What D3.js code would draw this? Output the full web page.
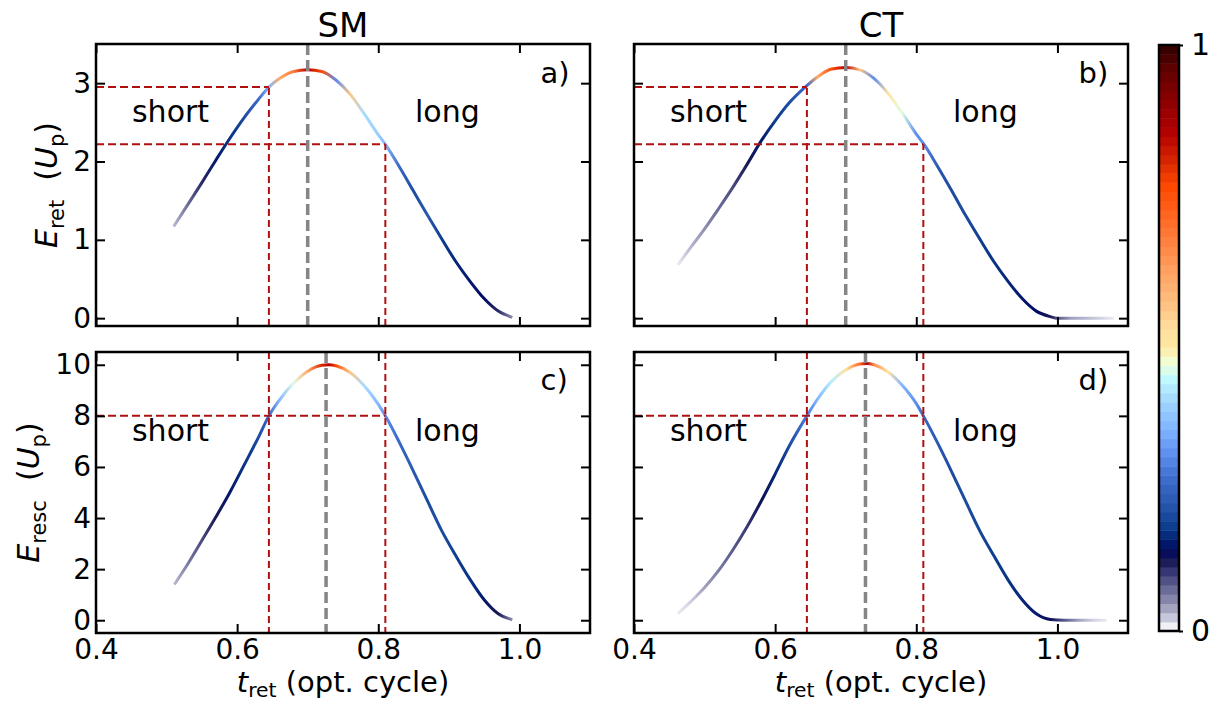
<!DOCTYPE html>
<html>
<head>
<meta charset="utf-8">
<script src="https://cdn.jsdelivr.net/npm/d3@7"></script>
<style>
  body { margin: 0; background: #fff; }
  svg { display: block; font-family: "DejaVu Sans", sans-serif; }
</style>
</head>
<body>
<div id="chart"></div>
<script>
// axes
var tDomain = [0.4, 1.1];
var tTicks = [0.4, 0.6, 0.8, 1.0];
var eRetDomain = [-0.1, 3.5];
var eRetTicks = [0, 1, 2, 3];
var eRescDomain = [-0.5, 10.5];
var eRescTicks = [0, 2, 4, 6, 8, 10];

// SM, return energy (panel a)
var smRetT = [0.51, 0.53, 0.55, 0.57, 0.59, 0.61, 0.63, 0.645, 0.66, 0.68, 0.70, 0.72, 0.74, 0.76, 0.78, 0.80, 0.81, 0.83, 0.85, 0.87, 0.89, 0.91, 0.93, 0.95, 0.97, 0.99];
var smRetE = [1.17, 1.45, 1.73, 2.02, 2.30, 2.56, 2.79, 2.95, 3.06, 3.15, 3.17, 3.15, 3.04, 2.86, 2.61, 2.34, 2.22, 1.93, 1.62, 1.31, 1.01, 0.72, 0.47, 0.25, 0.09, 0.01];
var smRetW = [0.03, 0.07, 0.11, 0.15, 0.17, 0.2, 0.25, 0.35, 0.6, 0.68, 0.85, 0.75, 0.3, 0.55, 0.4, 0.38, 0.35, 0.25, 0.2, 0.22, 0.18, 0.16, 0.15, 0.14, 0.11, 0.05];

// CT, return energy (panel b)
var ctRetT = [0.462, 0.48, 0.50, 0.52, 0.54, 0.56, 0.58, 0.60, 0.62, 0.645, 0.66, 0.68, 0.70, 0.72, 0.74, 0.76, 0.78, 0.80, 0.81, 0.83, 0.85, 0.87, 0.89, 0.91, 0.93, 0.95, 0.97, 0.99, 1.00, 1.02, 1.04, 1.06, 1.08];
var ctRetE = [0.68, 0.90, 1.14, 1.40, 1.67, 1.96, 2.26, 2.52, 2.75, 2.97, 3.08, 3.18, 3.20, 3.17, 3.06, 2.87, 2.62, 2.35, 2.23, 1.94, 1.63, 1.31, 1.01, 0.72, 0.47, 0.25, 0.09, 0.02, 0, 0, 0, 0, 0];
var ctRetW = [0.01, 0.03, 0.05, 0.07, 0.09, 0.12, 0.15, 0.18, 0.2, 0.25, 0.6, 0.75, 0.85, 0.55, 0.3, 0.5, 0.45, 0.3, 0.3, 0.22, 0.2, 0.2, 0.18, 0.17, 0.16, 0.15, 0.14, 0.12, 0.08, 0.04, 0.03, 0.02, 0.01];

// SM, rescattering energy (panel c)
var smRescT = [0.511, 0.53, 0.55, 0.57, 0.59, 0.61, 0.63, 0.645, 0.66, 0.68, 0.70, 0.72, 0.73, 0.74, 0.76, 0.78, 0.80, 0.81, 0.83, 0.85, 0.87, 0.89, 0.91, 0.93, 0.95, 0.97, 0.99];
var smRescE = [1.40, 2.20, 3.12, 4.05, 5.02, 6.08, 7.15, 8.0, 8.62, 9.28, 9.75, 9.98, 10.0, 9.96, 9.70, 9.18, 8.45, 8.0, 6.95, 5.82, 4.65, 3.50, 2.52, 1.60, 0.80, 0.25, 0.02];
var smRescW = [0.03, 0.06, 0.09, 0.12, 0.15, 0.17, 0.2, 0.25, 0.35, 0.45, 0.6, 0.8, 0.85, 0.75, 0.55, 0.4, 0.35, 0.3, 0.25, 0.22, 0.2, 0.2, 0.18, 0.17, 0.15, 0.12, 0.05];

// CT, rescattering energy (panel d)
var ctRescT = [0.462, 0.48, 0.50, 0.52, 0.54, 0.56, 0.58, 0.60, 0.62, 0.645, 0.66, 0.68, 0.70, 0.72, 0.73, 0.74, 0.76, 0.78, 0.80, 0.81, 0.83, 0.85, 0.87, 0.89, 0.91, 0.93, 0.95, 0.97, 0.99, 1.01, 1.03, 1.05, 1.07];
var ctRescE = [0.26, 0.72, 1.28, 1.95, 2.75, 3.65, 4.65, 5.72, 6.82, 8.0, 8.65, 9.35, 9.80, 10.03, 10.05, 10.0, 9.72, 9.20, 8.48, 8.0, 6.95, 5.82, 4.65, 3.50, 2.52, 1.58, 0.80, 0.25, 0.03, 0, 0, 0, 0];
var ctRescW = [0.01, 0.02, 0.04, 0.06, 0.08, 0.1, 0.13, 0.16, 0.2, 0.28, 0.35, 0.42, 0.5, 0.7, 0.85, 0.65, 0.5, 0.35, 0.3, 0.25, 0.22, 0.2, 0.2, 0.19, 0.18, 0.17, 0.16, 0.15, 0.13, 0.08, 0.04, 0.02, 0.01];

// guide lines
var cutT = [0.645, 0.81];
var retCutE = [2.95, 2.22];
var rescCutE = 8.0;
var peakT = { a: 0.70, b: 0.70, c: 0.726, d: 0.728 };
var labelT = [0.451, 0.852];
var labelText = ["short", "long"];

// colour map
var cmapStops = [0, 0.009, 0.026, 0.048, 0.077, 0.105, 0.122, 0.14, 0.174, 0.219, 0.265, 0.304, 0.344, 0.39, 0.43, 0.458, 0.486, 0.515, 0.56, 0.617, 0.674, 0.76, 0.80, 0.85, 0.90, 0.958, 1];
var cmapColors = ["#ffffff", "#eeeef4", "#c0c0d8", "#9090b0", "#606090", "#303070", "#151550", "#000a60", "#0a3a8a", "#2a58b0", "#4070d0", "#6090f0", "#80b4ff", "#a0d4ff", "#c0f8ff", "#f0ffd8", "#ffe8a0", "#ffe0a0", "#ffc080", "#ffa060", "#ff7a38", "#ff4800", "#d82800", "#b40000", "#900000", "#600000", "#300000"];

var width = 1223, height = 706;
var FONT = '"DejaVu Sans", sans-serif';
var RED = "#b01010";

var cmap = d3.scaleLinear().domain(cmapStops).range(cmapColors)
    .interpolate(d3.interpolateRgb).clamp(true);

var svg = d3.select("#chart").append("svg")
    .attr("width", width)
    .attr("height", height);
svg.append("rect").attr("width", width).attr("height", height).attr("fill", "#fff");
var defs = svg.append("defs");

var panels = [
    { id: "a", left: 96, top: 44, w: 494, h: 282, kind: "ret", t: smRetT, e: smRetE, wt: smRetW, xLab: false, yLab: true },
    { id: "b", left: 634, top: 44, w: 494, h: 282, kind: "ret", t: ctRetT, e: ctRetE, wt: ctRetW, xLab: false, yLab: false },
    { id: "c", left: 96, top: 352, w: 494, h: 281, kind: "resc", t: smRescT, e: smRescE, wt: smRescW, xLab: true, yLab: true },
    { id: "d", left: 634, top: 352, w: 494, h: 281, kind: "resc", t: ctRescT, e: ctRescE, wt: ctRescW, xLab: true, yLab: false }
];

function styleAxis(sel) {
    sel.attr("font-size", 28).attr("font-family", FONT);
    sel.select(".domain").remove();
    sel.selectAll(".tick line").attr("stroke", "#000").attr("stroke-width", 2);
    sel.selectAll(".tick text").attr("fill", "#000");
}

panels.forEach(function (p) {
    var x = d3.scaleLinear().domain(tDomain).range([0, p.w]);
    var y = d3.scaleLinear().domain(p.kind == "ret" ? eRetDomain : eRescDomain).range([p.h, 0]);
    var yTicks = p.kind == "ret" ? eRetTicks : eRescTicks;
    var g = svg.append("g").attr("transform", "translate(" + p.left + "," + p.top + ")");

    // gradient along t carrying the normalised counts
    var n = p.t.length;
    var x0 = x(p.t[0]), x1 = x(p.t[n - 1]);
    var grad = defs.append("linearGradient")
        .attr("id", "grad-" + p.id)
        .attr("gradientUnits", "userSpaceOnUse")
        .attr("x1", x0).attr("x2", x1).attr("y1", 0).attr("y2", 0);
    grad.selectAll("stop").data(p.t).join("stop")
        .attr("offset", function (d) { return (x(d) - x0) / (x1 - x0); })
        .attr("stop-color", function (d, i) { return cmap(p.wt[i]); });

    var line = d3.line()
        .x(function (d) { return x(d[0]); })
        .y(function (d) { return y(d[1]); })
        .curve(d3.curveMonotoneX);
    g.append("path")
        .datum(d3.zip(p.t, p.e))
        .attr("d", line)
        .attr("fill", "none")
        .attr("stroke", "url(#grad-" + p.id + ")")
        .attr("stroke-width", 3);

    // red dashed guides
    var guides = g.append("g").attr("stroke", RED).attr("stroke-width", 2).attr("fill", "none");
    if (p.kind == "ret") {
        cutT.forEach(function (tc, i) {
            guides.append("line")
                .attr("x1", x(tDomain[0])).attr("x2", x(tc))
                .attr("y1", y(retCutE[i])).attr("y2", y(retCutE[i]))
                .attr("stroke-dasharray", "8,4");
            guides.append("line")
                .attr("x1", x(tc)).attr("x2", x(tc))
                .attr("y1", p.h).attr("y2", y(retCutE[i]))
                .attr("stroke-dasharray", "7,4");
        });
    } else {
        guides.append("line")
            .attr("x1", x(tDomain[0])).attr("x2", x(cutT[1]))
            .attr("y1", y(rescCutE)).attr("y2", y(rescCutE))
            .attr("stroke-dasharray", "8,4");
        cutT.forEach(function (tc) {
            guides.append("line")
                .attr("x1", x(tc)).attr("x2", x(tc))
                .attr("y1", 0).attr("y2", p.h)
                .attr("stroke-dasharray", "7,4");
        });
    }

    // grey dashed line at the cut-off
    g.append("line")
        .attr("x1", x(peakT[p.id])).attr("x2", x(peakT[p.id]))
        .attr("y1", 0).attr("y2", p.h)
        .attr("stroke", "#858585").attr("stroke-width", 3.5)
        .attr("stroke-dasharray", "11,5");

    // short / long labels
    var labE = p.kind == "ret" ? 2.5 : 7.0;
    g.selectAll("text.traj").data(labelText).join("text")
        .attr("class", "traj")
        .attr("x", function (d, i) { return x(labelT[i]); })
        .attr("y", y(labE))
        .attr("font-size", 30)
        .text(function (d) { return d; });

    g.append("text")
        .attr("x", x(1.03))
        .attr("y", y(p.kind == "ret" ? 3.0 : 9.0))
        .attr("font-size", 29)
        .text(p.id + ")");

    // axes, ticks inside on all four sides
    g.append("g").attr("transform", "translate(0," + p.h + ")")
        .call(d3.axisBottom(x).tickValues(tTicks).tickSize(-9).tickPadding(6)
            .tickFormat(p.xLab ? d3.format(".1f") : function () { return ""; }))
        .call(styleAxis);
    g.append("g")
        .call(d3.axisTop(x).tickValues(tTicks).tickSize(-9).tickFormat(function () { return ""; }))
        .call(styleAxis);
    g.append("g")
        .call(d3.axisLeft(y).tickValues(yTicks).tickSize(-9).tickPadding(5)
            .tickFormat(p.yLab ? d3.format("d") : function () { return ""; }))
        .call(styleAxis);
    g.append("g").attr("transform", "translate(" + p.w + ",0)")
        .call(d3.axisRight(y).tickValues(yTicks).tickSize(-9).tickFormat(function () { return ""; }))
        .call(styleAxis);

    g.append("rect")
        .attr("width", p.w).attr("height", p.h)
        .attr("fill", "none").attr("stroke", "#000").attr("stroke-width", 2.5);
});

// column titles
svg.selectAll("text.title").data(["SM", "CT"]).join("text")
    .attr("class", "title")
    .attr("x", function (d, i) { return panels[i].left + panels[i].w / 2; })
    .attr("y", 37)
    .attr("text-anchor", "middle")
    .attr("font-size", 34)
    .text(function (d) { return d; });

// math-style labels: italic symbol with roman subscript
function mathLabel(sel, sym, sub, size, drop) {
    sel.append("tspan").attr("font-style", "italic").text(sym);
    sel.append("tspan").attr("font-size", size * 0.7).attr("dy", drop).text(sub);
}
function yLabel(cx, cy, sub) {
    var t = svg.append("text")
        .attr("transform", "translate(" + cx + "," + cy + ") rotate(-90)")
        .attr("text-anchor", "middle")
        .attr("font-size", 30);
    mathLabel(t, "E", sub, 30, 6.5);
    t.append("tspan").attr("dy", -6.5).text("\u00a0\u00a0(");
    mathLabel(t, "U", "p", 30, 6.5);
    t.append("tspan").attr("dy", -6.5).text(")");
}
yLabel(57, panels[0].top + panels[0].h / 2, "ret");
yLabel(39, panels[2].top + panels[2].h / 2, "resc");

// x labels
[panels[2], panels[3]].forEach(function (p) {
    var t = svg.append("text")
        .attr("x", p.left + p.w / 2)
        .attr("y", 692)
        .attr("text-anchor", "middle")
        .attr("font-size", 29);
    mathLabel(t, "t", "ret", 29, 5);
    t.append("tspan").attr("dy", -5).text(" (opt. cycle)");
});

// colour bar
var cb = { left: 1159, top: 45, w: 20, h: 586 };
var cbScale = d3.scaleLinear().domain([0, 1]).range([cb.top + cb.h, cb.top]);
var bands = d3.range(64).map(function (i) { return i / 64; });
svg.append("g").selectAll("rect").data(bands).join("rect")
    .attr("x", cb.left)
    .attr("y", function (d) { return cbScale(d + 1 / 64); })
    .attr("width", cb.w)
    .attr("height", cb.h / 64 + 0.5)
    .attr("fill", function (d) { return cmap(d + 0.5 / 64); });
svg.append("rect")
    .attr("x", cb.left).attr("y", cb.top).attr("width", cb.w).attr("height", cb.h)
    .attr("fill", "none").attr("stroke", "#000").attr("stroke-width", 2.5);
svg.append("g").attr("transform", "translate(" + (cb.left + cb.w) + ",0)")
    .call(d3.axisRight(cbScale).tickValues([0, 1]).tickSize(4).tickPadding(8).tickFormat(d3.format("d")))
    .call(styleAxis)
    .attr("font-size", 30);
</script>
</body>
</html>
